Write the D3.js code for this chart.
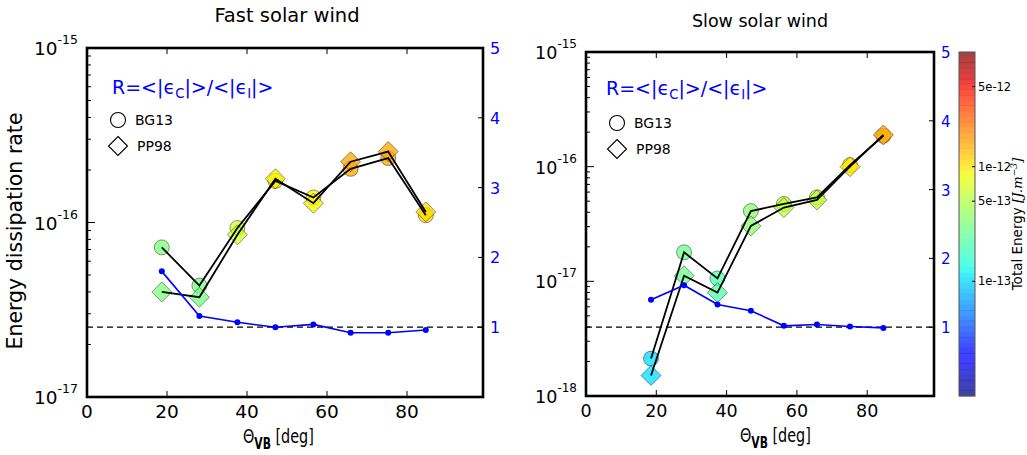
<!DOCTYPE html>
<html><head><meta charset="utf-8">
<script src="https://cdn.jsdelivr.net/npm/d3@7"></script>
<style>
body{margin:0;background:#fff}
text{font-family:"DejaVu Sans",sans-serif}
</style></head>
<body><svg id="c" width="1027" height="455"></svg>
<script>
// ---------------- data ----------------
const thetaFast = [18.7, 28.1, 37.6, 47.1, 56.6, 65.9, 75.3, 84.7];
const bg13Fast  = [7.2e-17, 4.35e-17, 9.3e-17, 1.73e-16, 1.39e-16, 2.03e-16, 2.34e-16, 1.10e-16];
const pp98Fast  = [4.0e-17, 3.73e-17, 8.5e-17, 1.78e-16, 1.29e-16, 2.23e-16, 2.55e-16, 1.15e-16];
const ratioFast = [1.80, 1.16, 1.07, 1.00, 1.04, 0.92, 0.92, 0.96];
const energyFast = [3.2e-13, 3.0e-13, 6.3e-13, 8.9e-13, 8.9e-13, 1.6e-12, 1.6e-12, 1.1e-12];

const thetaSlow = [18.5, 27.9, 37.4, 46.9, 56.3, 65.7, 75.1, 84.6];
const bg13Slow  = [2.12e-18, 1.79e-17, 1.06e-17, 4.1e-17, 4.73e-17, 5.4e-17, 1.03e-16, 1.86e-16];
const pp98Slow  = [1.51e-18, 1.12e-17, 7.97e-18, 3.04e-17, 4.4e-17, 5.13e-17, 1.0e-16, 1.89e-16];
const ratioSlow = [1.40, 1.61, 1.33, 1.24, 1.02, 1.04, 1.01, 0.99];
const energySlow = [1.05e-13, 2.75e-13, 2.1e-13, 3.6e-13, 5.5e-13, 5.5e-13, 1.0e-12, 1.55e-12];

const xTicks = [0, 20, 40, 60, 80];
const ratioTicks = [1, 2, 3, 4, 5];
const cbarTicks = [1e-13, 5e-13, 1e-12, 5e-12];
const cbarTickLabels = ["1e-13", "5e-13", "1e-12", "5e-12"];
const titles = ["Fast solar wind", "Slow solar wind"];
const legendNames = ["BG13", "PP98"];

// ---------------- helpers ----------------
const svg = d3.select("#c");
function interp(pts, t){
  for (let i=1;i<pts.length;i++){
    if (t<=pts[i][0]){ const a=pts[i-1], b=pts[i]; return a[1]+(b[1]-a[1])*(t-a[0])/(b[0]-a[0]); }
  }
  return pts[pts.length-1][1];
}
function jet(t){
  t=Math.max(0,Math.min(1,t));
  const r=interp([[0,0],[0.35,0],[0.66,1],[0.89,1],[1,0.5]],t);
  const g=interp([[0,0],[0.125,0],[0.375,1],[0.64,1],[0.91,0],[1,0]],t);
  const b=interp([[0,0.5],[0.11,1],[0.34,1],[0.65,0],[1,0]],t);
  return d3.rgb(r*255,g*255,b*255).formatHex();
}
const eScale = d3.scaleLog().domain([1e-14,1e-11]).range([0,1]);
const ALPHA = 0.75;

function panel(cfg){
  const {x0,x1,y0,y1,ymin,theta,bg,pp,ratio,energy,title,fs} = cfg;
  const g = svg.append("g");
  const x = d3.scaleLinear().domain([0,99]).range([x0,x1]);
  const y = d3.scaleLog().domain([ymin,1e-15]).range([y1,y0]);
  const r = d3.scaleLinear().domain([0,5]).range([y1,y0]);

  // title
  g.append("text").attr("x",(x0+x1)/2+cfg.titleDx).attr("y",cfg.titleY).attr("text-anchor","middle")
    .attr("font-size",fs.title).text(title);

  // x ticks (bottom & top, inward)
  xTicks.forEach(v=>{
    g.append("line").attr("x1",x(v)).attr("x2",x(v)).attr("y1",y1).attr("y2",y1-6).attr("stroke","#000");
    g.append("line").attr("x1",x(v)).attr("x2",x(v)).attr("y1",y0).attr("y2",y0+6).attr("stroke","#000");
    g.append("text").attr("x",x(v)).attr("y",y1+21).attr("text-anchor","middle").attr("font-size",fs.tick).text(v);
  });

  // log y ticks
  const lo = Math.round(Math.log10(ymin));
  for (let e=lo;e<=-15;e++){
    const yv = y(Math.pow(10,e));
    g.append("line").attr("x1",x0).attr("x2",x0+8).attr("y1",yv).attr("y2",yv).attr("stroke","#000");
    const t = g.append("text").attr("x",x0-9).attr("y",yv+7).attr("text-anchor","end").attr("font-size",fs.tick);
    t.append("tspan").text("10");
    t.append("tspan").attr("dy",-11).attr("font-size",fs.sup).text("-"+(-e));
    if (e<-15){
      for (let m=2;m<=9;m++){
        const ym = y(m*Math.pow(10,e));
        g.append("line").attr("x1",x0).attr("x2",x0+4).attr("y1",ym).attr("y2",ym).attr("stroke","#000");
      }
    }
  }

  // ratio axis (right, blue labels)
  ratioTicks.forEach(v=>{
    g.append("line").attr("x1",x1).attr("x2",x1-5).attr("y1",r(v)).attr("y2",r(v)).attr("stroke","#000");
    g.append("text").attr("x",x1+7).attr("y",r(v)+6).attr("font-size",fs.rtick).attr("fill","#0000ff").text(v);
  });

  // dashed R=1 line
  g.append("line").attr("x1",x0).attr("x2",x1).attr("y1",r(1)).attr("y2",r(1))
    .attr("stroke","#000").attr("stroke-width",1.2).attr("stroke-dasharray","6,4");

  // markers: circles (BG13)
  theta.forEach((t,i)=>{
    g.append("circle").attr("cx",x(t)).attr("cy",y(bg[i])).attr("r",7.5)
      .attr("fill",jet(eScale(energy[i]))).attr("fill-opacity",ALPHA)
      .attr("stroke","#000").attr("stroke-opacity",0.6).attr("stroke-width",0.7);
  });
  // diamonds (PP98)
  theta.forEach((t,i)=>{
    const cx=x(t), cy=y(pp[i]), s=10;
    g.append("path").attr("d",`M${cx},${cy-s}L${cx+s},${cy}L${cx},${cy+s}L${cx-s},${cy}Z`)
      .attr("fill",jet(eScale(energy[i]))).attr("fill-opacity",ALPHA)
      .attr("stroke","#000").attr("stroke-opacity",0.6).attr("stroke-width",0.7);
  });
  // black lines
  const lineBG = d3.line().x((d,i)=>x(theta[i])).y(d=>y(d));
  g.append("path").attr("d",lineBG(bg)).attr("fill","none").attr("stroke","#000").attr("stroke-width",1.8);
  g.append("path").attr("d",lineBG(pp)).attr("fill","none").attr("stroke","#000").attr("stroke-width",1.8);

  // ratio line
  const lineR = d3.line().x((d,i)=>x(theta[i])).y(d=>r(d));
  g.append("path").attr("d",lineR(ratio)).attr("fill","none").attr("stroke","#0000ff").attr("stroke-width",1.6);
  ratio.forEach((v,i)=>{
    g.append("circle").attr("cx",x(theta[i])).attr("cy",r(v)).attr("r",3).attr("fill","#0000ff");
  });

  // R text
  const rt = g.append("text").attr("x",cfg.rX).attr("y",cfg.rY).attr("font-size",fs.rtext).attr("fill","#0000ff");
  rt.append("tspan").text("R=<|\u03F5");
  rt.append("tspan").attr("dy",4).attr("font-size",fs.rtext*0.7).text("C");
  rt.append("tspan").attr("dy",-4).text("|>/<|\u03F5");
  rt.append("tspan").attr("dy",4).attr("font-size",fs.rtext*0.7).text("I");
  rt.append("tspan").attr("dy",-4).text("|>");

  // legend
  const lx=cfg.legX, ly=cfg.legY;
  g.append("circle").attr("cx",lx).attr("cy",ly).attr("r",7.5).attr("fill","none").attr("stroke","#000").attr("stroke-width",1.1);
  g.append("path").attr("d",`M${lx},${ly+26-9.5}L${lx+9.5},${ly+26}L${lx},${ly+26+9.5}L${lx-9.5},${ly+26}Z`)
    .attr("fill","none").attr("stroke","#000").attr("stroke-width",1.1);
  g.append("text").attr("x",lx+17).attr("y",ly+5).attr("font-size",fs.leg).text(legendNames[0]);
  g.append("text").attr("x",lx+19).attr("y",ly+31).attr("font-size",fs.leg).text(legendNames[1]);

  // frame
  g.append("rect").attr("x",x0).attr("y",y0).attr("width",x1-x0).attr("height",y1-y0)
    .attr("fill","none").attr("stroke","#000").attr("stroke-width",2.6);

  // x label (condensed as in the reference)
  const xl = g.append("text").attr("transform",`translate(${cfg.xlX},${y1+46}) scale(0.72,1)`).attr("font-size",fs.xlab);
  xl.append("tspan").text("\u0398");
  xl.append("tspan").attr("dy",6).attr("font-size",fs.xlab*0.75).attr("font-weight","bold").text("VB");
  xl.append("tspan").attr("dy",-6).text(" [deg]");
}

panel({x0:87,x1:483,y0:48,y1:397,ymin:1e-17,theta:thetaFast,bg:bg13Fast,pp:pp98Fast,ratio:ratioFast,energy:energyFast,
  title:titles[0],titleY:22,titleDx:2,rX:112,rY:94,legX:118,legY:120,xlX:243,
  fs:{title:19.5,tick:18.5,sup:12.5,rtick:16,rtext:19,leg:14,xlab:20}});
panel({x0:586,x1:934,y0:52,y1:396,ymin:1e-18,theta:thetaSlow,bg:bg13Slow,pp:pp98Slow,ratio:ratioSlow,energy:energySlow,
  title:titles[1],titleY:27,titleDx:0,rX:606,rY:95,legX:617,legY:123,xlX:740,
  fs:{title:17.5,tick:17.5,sup:12,rtick:15,rtext:19,leg:14,xlab:20}});

// y label (left)
svg.append("text").attr("transform","translate(21.5,231) rotate(-90)").attr("text-anchor","middle")
  .attr("font-size",20.5).text("Energy dissipation rate");

// colorbar
const cb = {x:959,w:16,y0:52,y1:396};
const cy = d3.scaleLog().domain([1e-14,1e-11]).range([cb.y1,cb.y0]);
const nb = 64;
for (let i=0;i<nb;i++){
  const ya = cb.y1 - (cb.y1-cb.y0)*i/nb, yb = cb.y1 - (cb.y1-cb.y0)*(i+1)/nb;
  svg.append("rect").attr("x",cb.x).attr("y",yb).attr("width",cb.w).attr("height",ya-yb+0.3)
    .attr("fill",jet((i+0.5)/nb)).attr("fill-opacity",ALPHA);
}
svg.append("rect").attr("x",cb.x).attr("y",cb.y0).attr("width",cb.w).attr("height",cb.y1-cb.y0)
  .attr("fill","none").attr("stroke","#555").attr("stroke-width",1);
cbarTicks.forEach((v,i)=>{
  svg.append("line").attr("x1",cb.x+cb.w).attr("x2",cb.x+cb.w-3).attr("y1",cy(v)).attr("y2",cy(v)).attr("stroke","#000");
  svg.append("text").attr("x",cb.x+cb.w+3).attr("y",cy(v)+4).attr("font-size",11.5).text(cbarTickLabels[i]);
});
const cl = svg.append("text").attr("transform","translate(1022,224) rotate(-90)").attr("text-anchor","middle").attr("font-size",13.5);
cl.append("tspan").text("Total Energy ");
cl.append("tspan").attr("font-family","DejaVu Serif").attr("font-style","italic").text("[J.m");
cl.append("tspan").attr("dy",-5).attr("font-size",9).attr("font-family","DejaVu Serif").attr("font-style","italic").text("\u22123");
cl.append("tspan").attr("dy",5).attr("font-family","DejaVu Serif").attr("font-style","italic").text("]");
</script></body></html>
